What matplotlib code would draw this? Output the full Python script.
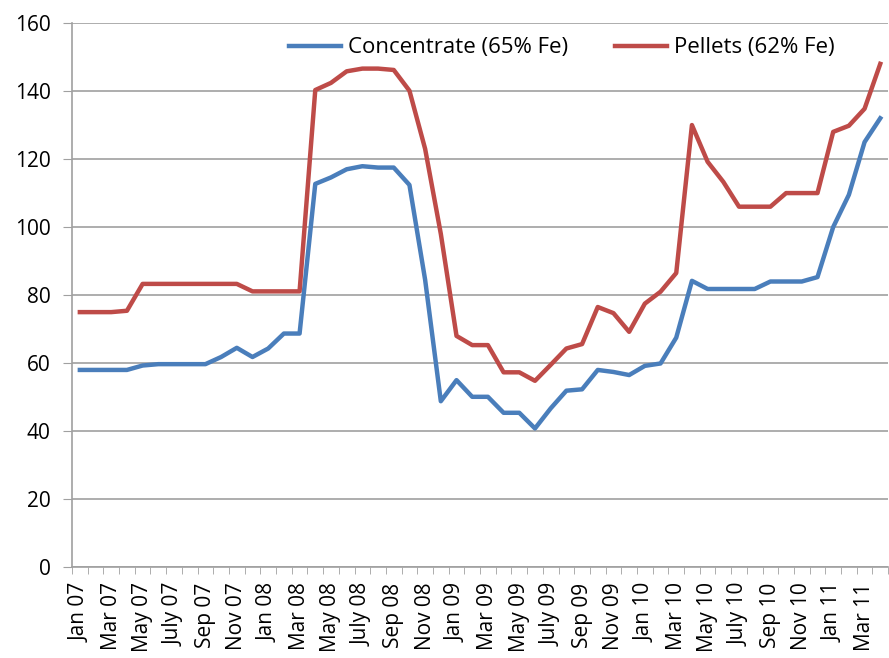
import matplotlib
matplotlib.use('Agg')
import matplotlib.pyplot as plt
import numpy as np

# Monthly prices, Jan 07 .. Apr 11
months = ['Jan', 'Feb', 'Mar', 'Apr', 'May', 'June', 'July', 'Aug', 'Sep', 'Oct', 'Nov', 'Dec']
labels = []
for yr in ['07', '08', '09', '10', '11']:
    for m in months:
        labels.append(f'{m} {yr}')
labels = labels[:52]

concentrate = [58, 58, 58, 58, 59.3, 59.7, 59.7, 59.7, 59.7, 61.8, 64.5, 61.8,
               64.3, 68.7, 68.7, 112.7, 114.6, 117, 117.9, 117.5, 117.5, 112.4, 84.5, 48.8,
               55, 50.1, 50.1, 45.4, 45.4, 40.8, 46.7, 51.9, 52.3, 58, 57.4, 56.5,
               59.2, 59.9, 67.5, 84.2, 81.8, 81.8, 81.8, 81.8, 84, 84, 84, 85.3,
               100, 109.5, 125, 132]
pellets = [75, 75, 75, 75.4, 83.3, 83.3, 83.3, 83.3, 83.3, 83.3, 83.3, 81.1,
           81.1, 81.1, 81.1, 140.3, 142.4, 145.8, 146.6, 146.6, 146.2, 140.1, 123, 98,
           68, 65.3, 65.3, 57.3, 57.3, 54.8, 59.5, 64.3, 65.6, 76.5, 74.7, 69.2,
           77.5, 81, 86.5, 130, 119.2, 113.3, 106, 106, 106, 110, 110, 110,
           128, 129.8, 134.8, 148]

x = np.arange(len(labels))
font = 'Open Sans'

fig = plt.figure(figsize=(8.89, 6.58), dpi=100)
ax = fig.add_axes([0.081, 0.138, 0.918, 0.827])

ax.plot(x, concentrate, color='#4A7EBB', lw=3.2, label='Concentrate (65% Fe)', solid_joinstyle='round')
ax.plot(x, pellets, color='#BE4B48', lw=3.2, label='Pellets (62% Fe)', solid_joinstyle='round')

ax.set_xlim(-0.5, len(labels) - 0.5)
ax.set_ylim(0, 160)
ax.set_yticks(np.arange(0, 161, 20))
ax.grid(axis='y', color='#A0A0A0', lw=1.2)
ax.set_axisbelow(True)

ax.set_xticks(x[::2])
ax.set_xticklabels(labels[::2], rotation=90, fontsize=15, family=font)
ax.set_xticks(np.arange(-0.5, len(labels)), minor=True)
ax.tick_params(axis='x', which='major', length=0, pad=11)
ax.tick_params(axis='x', which='minor', length=5, color='#A0A0A0', direction='out')
ax.tick_params(axis='y', length=6.5, color='#A0A0A0', labelsize=15, pad=9)
for t in ax.get_yticklabels():
    t.set_family(font)

for s in ['top', 'right']:
    ax.spines[s].set_visible(False)
for s in ['left', 'bottom']:
    ax.spines[s].set_color('#A0A0A0')
    ax.spines[s].set_linewidth(1.2)

fig.legend(*ax.get_legend_handles_labels(), loc='center left',
           bbox_to_anchor=(289 / 889, 1 - 48 / 658), ncol=2, frameon=False,
           prop={'family': font, 'size': 16}, borderpad=0, borderaxespad=0,
           handlelength=2.35, handletextpad=0.3, columnspacing=2.1)

plt.savefig('out.png', dpi=100)
plt.close()
